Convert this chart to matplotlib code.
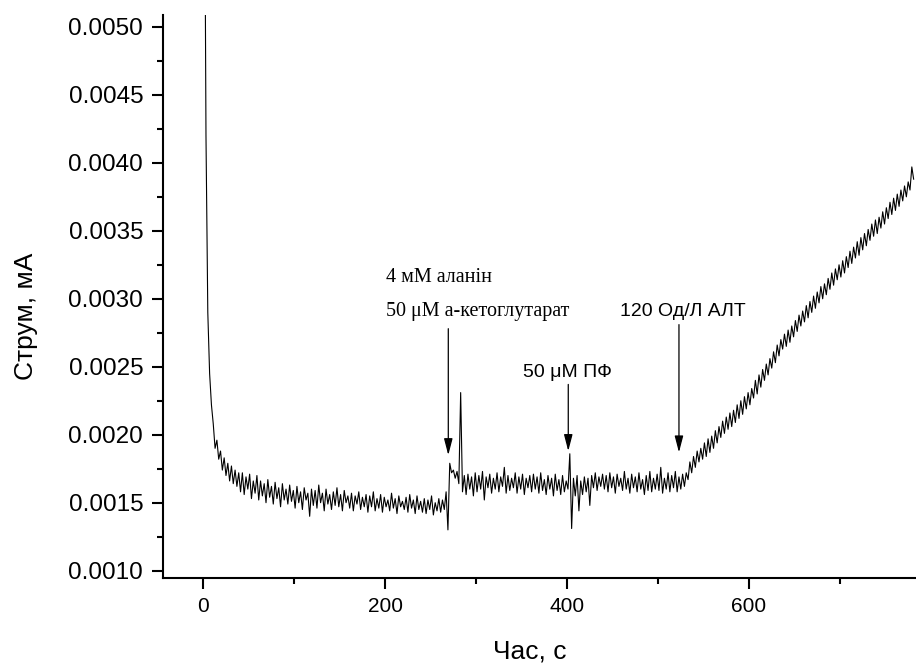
import numpy as np
import matplotlib.pyplot as plt
from matplotlib.ticker import MultipleLocator, FormatStrFormatter

# current, in uA, one reading every 2 s starting at t = 1 s
current_uA = [
    7.00, 4.20, 2.90, 2.45, 2.22, 2.08, 1.90, 1.96, 1.82, 1.88,
    1.74, 1.83, 1.70, 1.79, 1.66, 1.77, 1.64, 1.74, 1.62, 1.72,
    1.58, 1.72, 1.56, 1.69, 1.60, 1.71, 1.53, 1.66, 1.57, 1.70,
    1.52, 1.66, 1.55, 1.64, 1.50, 1.67, 1.54, 1.62, 1.49, 1.65,
    1.53, 1.61, 1.47, 1.64, 1.52, 1.60, 1.49, 1.63, 1.51, 1.59,
    1.46, 1.62, 1.50, 1.58, 1.45, 1.61, 1.52, 1.57, 1.40, 1.60,
    1.48, 1.59, 1.46, 1.63, 1.50, 1.57, 1.44, 1.60, 1.49, 1.56,
    1.45, 1.58, 1.48, 1.61, 1.47, 1.56, 1.44, 1.59, 1.50, 1.55,
    1.46, 1.57, 1.44, 1.55, 1.49, 1.58, 1.45, 1.54, 1.47, 1.56,
    1.43, 1.55, 1.47, 1.58, 1.44, 1.53, 1.46, 1.56, 1.43, 1.54,
    1.47, 1.52, 1.44, 1.57, 1.46, 1.53, 1.42, 1.55, 1.47, 1.51,
    1.45, 1.54, 1.43, 1.56, 1.46, 1.52, 1.42, 1.55, 1.45, 1.51,
    1.43, 1.53, 1.42, 1.52, 1.45, 1.55, 1.41, 1.50, 1.44, 1.53,
    1.43, 1.52, 1.45, 1.58, 1.30, 1.79, 1.72, 1.74, 1.68, 1.73,
    1.64, 2.31, 1.58, 1.70, 1.56, 1.71, 1.60, 1.69, 1.55, 1.72,
    1.58, 1.70, 1.60, 1.73, 1.52, 1.69, 1.61, 1.71, 1.57, 1.68,
    1.60, 1.72, 1.58, 1.69, 1.62, 1.76, 1.57, 1.70, 1.59, 1.68,
    1.61, 1.72, 1.57, 1.69, 1.60, 1.71, 1.56, 1.68, 1.61, 1.70,
    1.58, 1.71, 1.60, 1.69, 1.57, 1.72, 1.59, 1.67, 1.56, 1.70,
    1.60, 1.68, 1.55, 1.71, 1.59, 1.67, 1.56, 1.70, 1.58, 1.66,
    1.60, 1.86, 1.31, 1.68, 1.55, 1.70, 1.44, 1.66, 1.56, 1.69,
    1.58, 1.68, 1.48, 1.70, 1.61, 1.72, 1.59, 1.69, 1.62, 1.71,
    1.60, 1.70, 1.58, 1.72, 1.61, 1.69, 1.57, 1.71, 1.62, 1.68,
    1.59, 1.73, 1.60, 1.68, 1.57, 1.71, 1.61, 1.69, 1.58, 1.72,
    1.60, 1.67, 1.56, 1.70, 1.59, 1.73, 1.58, 1.68, 1.60, 1.71,
    1.59, 1.76, 1.57, 1.68, 1.60, 1.72, 1.58, 1.70, 1.61, 1.73,
    1.58, 1.69, 1.60, 1.71, 1.62, 1.72, 1.67, 1.80, 1.72, 1.84,
    1.76, 1.88, 1.80, 1.90, 1.82, 1.94, 1.84, 1.97, 1.87, 1.99,
    1.90, 2.03, 1.94, 2.06, 1.98, 2.10, 2.01, 2.13, 2.04, 2.16,
    2.06, 2.18, 2.09, 2.22, 2.12, 2.25, 2.15, 2.28, 2.19, 2.31,
    2.22, 2.34, 2.27, 2.40, 2.30, 2.44, 2.35, 2.48, 2.40, 2.52,
    2.44, 2.56, 2.49, 2.61, 2.53, 2.66, 2.58, 2.70, 2.63, 2.74,
    2.65, 2.77, 2.68, 2.80, 2.72, 2.84, 2.76, 2.88, 2.80, 2.91,
    2.83, 2.95, 2.86, 2.98, 2.90, 3.02, 2.93, 3.05, 2.97, 3.09,
    3.00, 3.11, 3.03, 3.15, 3.07, 3.19, 3.10, 3.22, 3.14, 3.25,
    3.16, 3.28, 3.19, 3.31, 3.23, 3.35, 3.26, 3.38, 3.30, 3.42,
    3.32, 3.45, 3.36, 3.48, 3.39, 3.51, 3.43, 3.55, 3.46, 3.58,
    3.48, 3.60, 3.52, 3.64, 3.55, 3.67, 3.59, 3.71, 3.62, 3.74,
    3.65, 3.77, 3.68, 3.80, 3.72, 3.83, 3.75, 3.86, 3.80, 3.97, 3.88,
]
t_start = 1
t_step = 2

# additions marked with arrows: time (s), arrow top and tip (mA)
add_times = [269.4, 401.3, 523.0]
add_top = [0.00278, 0.00237, 0.00281]
add_tip = [0.00185, 0.00188, 0.00187]

time = t_start + t_step * np.arange(len(current_uA))
current = np.array(current_uA) / 1000.0

plt.rcParams['font.family'] = ['Liberation Sans', 'DejaVu Sans']

fig = plt.figure(figsize=(9.16, 6.64), dpi=100)
ax = fig.add_axes([0.1776, 0.1295, 0.8224, 0.848])

ax.plot(time, current, color='black', linewidth=0.8)

for x, y0, y1 in zip(add_times, add_top, add_tip):
    ax.annotate('', xy=(x, y1), xytext=(x, y0),
                arrowprops=dict(arrowstyle='-|>,head_length=0.5,head_width=0.13',
                                color='black', lw=0.9, mutation_scale=20,
                                shrinkA=0, shrinkB=0))

ax.text(200.5, 0.00312, '4 мМ аланін', family='Liberation Serif', fontsize=14.5)
ax.text(200.5, 0.00287, '50 μМ а-кетоглутарат', family='Liberation Serif', fontsize=14.5)
ax.text(351, 0.002426, '50 μМ ПФ', fontsize=14)
ax.text(458, 0.00287, '120 Од/Л АЛТ', fontsize=14)

ax.set_xlim(-44.6, 783.6)
ax.set_ylim(0.000946, 0.005088)

ax.xaxis.set_major_locator(MultipleLocator(200))
ax.xaxis.set_minor_locator(MultipleLocator(100))
ax.yaxis.set_major_locator(MultipleLocator(0.0005))
ax.yaxis.set_minor_locator(MultipleLocator(0.00025))
ax.yaxis.set_major_formatter(FormatStrFormatter('%.4f'))

ax.spines['top'].set_visible(False)
ax.spines['right'].set_visible(False)
ax.spines['left'].set_linewidth(1.5)
ax.spines['bottom'].set_linewidth(1.5)
ax.tick_params(which='major', length=8, width=1.5, labelsize=15, pad=6)
ax.tick_params(which='minor', length=4.5, width=1.5)
ax.tick_params(axis='y', which='major', labelsize=17.5)

ax.set_xlabel('Час, с', fontsize=19)
ax.set_ylabel('Струм, мА', fontsize=19)
ax.xaxis.set_label_coords(0.4876, -0.110)
ax.yaxis.set_label_coords(-0.166, 0.465)

fig.savefig('out.png', dpi=100)
